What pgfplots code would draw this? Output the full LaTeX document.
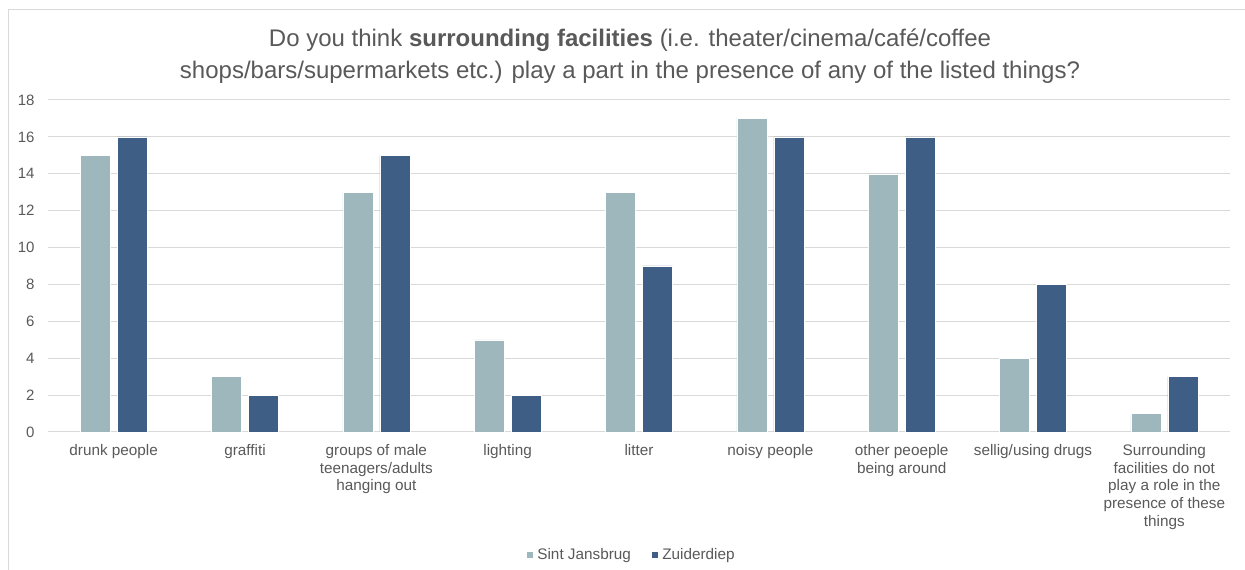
\documentclass[border=0pt]{standalone}
\usepackage{pgfplots}
\pgfplotsset{compat=1.18}
\usepackage{pgfplotstable}
\usepackage{fontspec}
\setmainfont{Liberation Sans}
\definecolor{txt}{HTML}{595959}
\definecolor{gridc}{HTML}{D9D9D9}
\definecolor{sint}{RGB}{158,183,188}
\definecolor{zuid}{RGB}{62,94,134}
\pgfplotstableread{
x sint zuid
0 15 16
1 3 2
2 13 15
3 5 2
4 13 9
5 17 16
6 14 16
7 4 8
8 1 3
}\datatable
\begin{document}
\begin{tikzpicture}[x=1pt,y=1pt]
\useasboundingbox (0,0) rectangle (1245,570);
\draw[gridc, line width=1pt] (8,0) -- (8,560) -- (1245,560);
\node[text=txt, align=center, font=\fontsize{24}{32}\selectfont] at (630,514) {Do you think \textbf{surrounding facilities} (i.e. theater/cinema/café/coffee\\shops/bars/supermarkets etc.) play a part in the presence of any of the listed things?};
\begin{axis}[
  at={(48pt,138pt)}, anchor=south west,
  scale only axis, width=1182pt, height=332pt,
  ybar=7pt, bar width=30pt,
  xmin=-0.5, xmax=8.5, ymin=0, ymax=18,
  ytick={0,2,...,18},
  xtick={0,...,8},
  xticklabels={{drunk people},{graffiti},{groups of male\\teenagers/adults\\hanging out},{lighting},{litter},{noisy people},{other peoeple\\being around},{sellig/using drugs},{Surrounding\\facilities do not\\play a role in the\\presence of these\\things}},
  xticklabel style={align=center, font=\fontsize{15.3}{17.6}\selectfont, text=txt, yshift=-9pt},
  yticklabel style={font=\fontsize{15}{17.5}\selectfont, text=txt, xshift=-10pt},
  axis x line*=bottom, axis y line*=left,
  y axis line style={draw=none},
  x axis line style={draw=gridc, line width=1pt},
  major tick length=0pt,
  tick style={draw=none},
  ymajorgrids, major grid style={draw=gridc, line width=1pt},
  /pgf/number format/assume math mode=true,
  legend style={at={(axis description cs:0.4935,-0.3705)}, anchor=center, draw=none, fill=none,
    legend columns=2, font=\fontsize{15.3}{17.5}\selectfont, text=txt,
    /tikz/every odd column/.append style={column sep=2pt},
    /tikz/every even column/.append style={column sep=18pt}},
  legend image code/.code={\fill[#1] (0pt,-3.5pt) rectangle (7pt,3.5pt);},
]
\addplot[fill=sint, draw=white, line width=0.4pt] table[x=x,y=sint]{\datatable};
\addplot[fill=zuid, draw=white, line width=0.4pt] table[x=x,y=zuid]{\datatable};
\legend{Sint Jansbrug, Zuiderdiep}
\end{axis}
\end{tikzpicture}
\end{document}
